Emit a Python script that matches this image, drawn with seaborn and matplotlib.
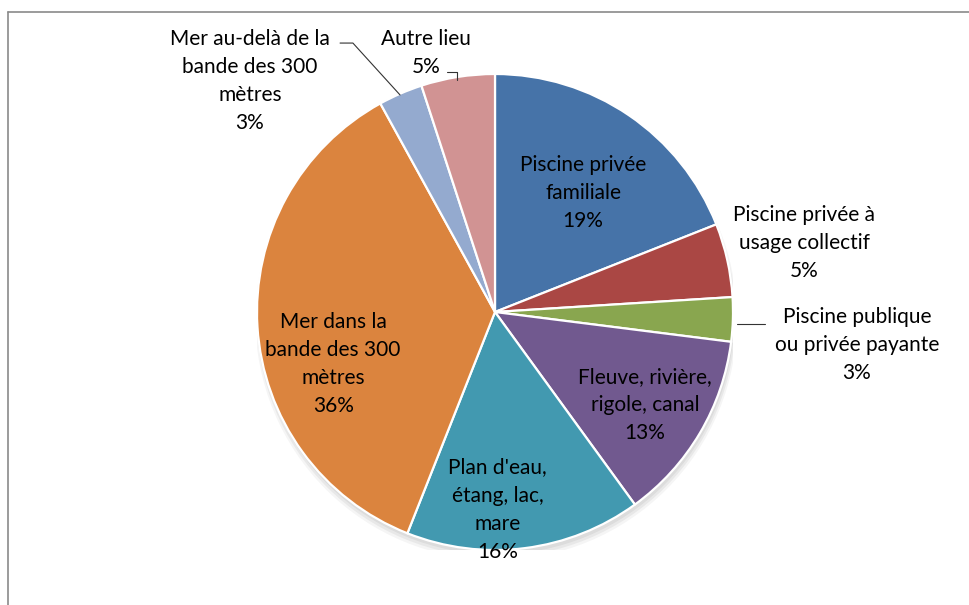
import matplotlib
matplotlib.use("Agg")
import matplotlib.pyplot as plt
import seaborn as sns
from matplotlib.patches import Circle

# Lieux de noyade (parts en %)
labels = [
    "Piscine privée\nfamiliale",
    "Piscine privée à\nusage collectif",
    "Piscine publique\nou privée payante",
    "Fleuve, rivière,\nrigole, canal",
    "Plan d'eau,\nétang, lac,\nmare",
    "Mer dans la\nbande des 300\nmètres",
    "Mer au-delà de la\nbande des 300\nmètres",
    "Autre lieu",
]
shares = [19, 5, 3, 13, 16, 36, 3, 5]
colors = ["#4673A8", "#AA4744", "#89A64F", "#71598F",
          "#4299B0", "#DB843E", "#94AACF", "#D19393"]

# label centres (data coords, pie radius = 1)
label_pos = [(0.37, 0.50), (1.30, 0.29), (1.52, -0.14), (0.63, -0.39),
             (0.01, -0.83), (-0.68, -0.22), (-1.03, 0.97), (-0.29, 1.09)]

sns.set_theme(style="white")
plt.rcParams["font.family"] = ["Lato", "DejaVu Sans"]

fig = plt.figure(figsize=(9.7, 6.05), dpi=100)
ax = fig.add_axes([257 / 970, 55 / 605, 476 / 970, 476 / 605])

# soft shadow under the pie
for i, a in enumerate([0.05, 0.05, 0.04]):
    ax.add_patch(Circle((0.005, -0.018 - 0.006 * i), 1.0 + 0.006 * i,
                        color="black", alpha=a, lw=0, zorder=0))

ax.pie(shares, colors=colors, startangle=90, counterclock=False, radius=1,
       wedgeprops=dict(edgecolor="white", linewidth=1.6))
ax.set_xlim(-1, 1)
ax.set_ylim(-1, 1)
ax.axis("off")

for lab, val, (x, y) in zip(labels, shares, label_pos):
    ax.text(x, y, f"{lab}\n{val}%", ha="center", va="center", fontsize=15,
            color="black", linespacing=1.5, clip_on=False)

# leader lines
lc = dict(color="#333333", lw=0.8, clip_on=False)
ax.plot([1.017, 1.134], [-0.05, -0.05], **lc)
ax.plot([-0.651, -0.597, -0.399], [1.130, 1.130, 0.912], **lc)
ax.plot([-0.202, -0.160, -0.160], [1.008, 1.008, 0.975], **lc)

# chart area frame (left and top edges visible)
fig.add_artist(plt.Line2D([8 / 970, 8 / 970], [0, 1 - 12 / 605],
                          transform=fig.transFigure, color="#8a8a8a", lw=1.2))
fig.add_artist(plt.Line2D([8 / 970, 1], [1 - 12 / 605, 1 - 12 / 605],
                          transform=fig.transFigure, color="#8a8a8a", lw=1.2))

fig.savefig("out.png", dpi=100, facecolor="white")
